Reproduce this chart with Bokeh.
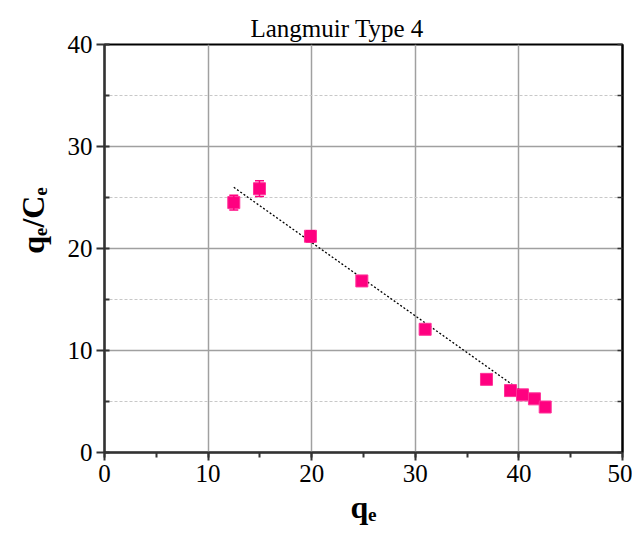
import numpy as np
from bokeh.plotting import figure
from bokeh.models import (ColumnDataSource, Whisker, TeeHead, LinearAxis,
                          SingleIntervalTicker, Range1d)
from bokeh.embed import file_html
from bokeh.resources import INLINE

# ---- data ----
qe = [12.48, 14.96, 19.88, 24.84, 30.95, 36.87, 39.19, 40.35, 41.50, 42.54]
qe_ce = [24.5, 25.86, 21.2, 16.82, 12.08, 7.17, 6.07, 5.65, 5.26, 4.46]
err = [0.73, 0.77, 0.55, 0.30, 0.30, 0.25, 0.20, 0.20, 0.20, 0.20]
fit_x = [12.48, 42.54]
fit_y = [26.0, 4.37]
title_text = "Langmuir Type 4"
x_label = "q\u2091"
y_label = "\u00a0" * 7 + "q\u2091/C\u2091"   # leading no-break spaces lift the label as in the reference

FONT = "'Liberation Serif', 'DejaVu Serif', serif"
PINK = "#FF0080"

p = figure(width=632, height=527, output_backend="svg", toolbar_location=None,
           x_range=Range1d(0, 50), y_range=Range1d(0, 40),
           min_border_left=104, min_border_right=10, min_border_top=44, min_border_bottom=75)
p.outline_line_color = "black"
p.outline_line_width = 2
p.background_fill_color = "white"
p.border_fill_color = "white"

# title
p.title.text = title_text
p.title.text_font = FONT
p.title.text_font_size = "25px"
p.title.text_font_style = "normal"
p.title.text_color = "black"
p.title.align = "left"
p.title.offset = 146
p.title.standoff = 5

xt = SingleIntervalTicker(interval=10, num_minor_ticks=2)
yt = SingleIntervalTicker(interval=10, num_minor_ticks=2)
p.xaxis.ticker = xt
p.yaxis.ticker = yt
p.xgrid.ticker = xt
p.ygrid.ticker = yt

for g in (p.xgrid[0], p.ygrid[0]):
    g.grid_line_color = "#a0a0a0"
    g.grid_line_width = 1.5
p.ygrid.minor_grid_line_color = "#c8c8c8"
p.ygrid.minor_grid_line_dash = "3 2"
p.ygrid.minor_grid_line_width = 1

for ax in (p.xaxis[0], p.yaxis[0]):
    ax.axis_line_color = "#333333"
    ax.axis_line_width = 2
    ax.major_tick_line_color = "#333333"
    ax.major_tick_line_width = 2
    ax.minor_tick_line_color = "#333333"
    ax.minor_tick_line_width = 2
    ax.major_tick_out = 8
    ax.major_tick_in = 0
    ax.major_label_text_font = FONT
    ax.major_label_text_font_size = "25px"
    ax.major_label_text_color = "black"
    ax.major_label_standoff = 4
    ax.axis_label_text_font = FONT
    ax.axis_label_text_font_size = "32px"
    ax.axis_label_text_font_style = "bold"
    ax.axis_label_text_color = "black"

p.xaxis.axis_label = x_label
p.yaxis.axis_label = y_label
p.xaxis.axis_label_standoff = 4
p.yaxis.axis_label_standoff = 14
p.xaxis.minor_tick_out = 5
p.xaxis.minor_tick_in = 0
p.yaxis.minor_tick_out = 0
p.yaxis.minor_tick_in = 5

# mirror axis on the right without labels
rax = LinearAxis(ticker=SingleIntervalTicker(interval=10, num_minor_ticks=2))
rax.axis_line_color = "black"
rax.axis_line_width = 2
rax.major_tick_in = 0
rax.major_tick_out = 0
rax.minor_tick_in = 5
rax.minor_tick_out = 0
rax.minor_tick_line_color = "#333333"
rax.minor_tick_line_width = 1.5
rax.major_label_text_font_size = "0px"
rax.major_label_standoff = 0
p.add_layout(rax, "right")

src = ColumnDataSource(dict(x=qe, y=qe_ce,
                            upper=[a + b for a, b in zip(qe_ce, err)],
                            lower=[a - b for a, b in zip(qe_ce, err)]))

# fit line
p.line(fit_x, fit_y, line_color="black", line_width=1.3, line_dash="2 2")

w = Whisker(source=src, base="x", upper="upper", lower="lower",
            line_color=PINK, line_width=1.5,
            upper_head=TeeHead(size=9, line_color=PINK, line_width=1.5),
            lower_head=TeeHead(size=9, line_color=PINK, line_width=1.5))
w.level = "glyph"
p.add_layout(w)

p.scatter("x", "y", source=src, marker="square", size=12,
          fill_color=PINK, line_color="#FF3399", line_width=1)

open("out.html", "w").write(file_html(p, INLINE))
